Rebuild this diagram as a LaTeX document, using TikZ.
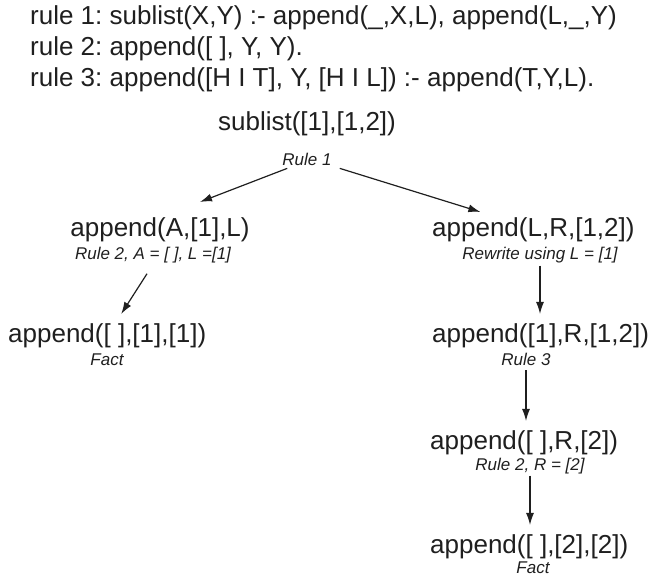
\documentclass[tikz,border=0pt]{standalone}
\usepackage{fontspec}
\setmainfont{Liberation Sans}
\usetikzlibrary{arrows.meta}
\definecolor{ink}{gray}{0.12}
\frenchspacing

\tikzset{
    term/.style={anchor=base, inner sep=0pt, font=\fontsize{26}{31}\selectfont},
    why/.style={anchor=base, inner sep=0pt, font=\fontsize{17}{20}\selectfont\itshape},
    arr/.style={->, line width=1.2pt},
}

\begin{document}
\begin{tikzpicture}[x=1pt, y=-1pt, >={Latex[length=12pt,width=8pt]}, color=ink]
            \useasboundingbox (0,0) rectangle (648,578);
            % the three rules
            \foreach \y/\t [count=\i] in {25/{rule 1: sublist(X,Y) :- append(\_,X,L), append(L,\_,Y)},
                                          56/{rule 2: append([ ], Y, Y).},
                                          87/{rule 3: append([H I T], Y, [H I L]) :- append(T,Y,L).}}
            {
                \node[term, anchor=base west] (rule\i) at (30, \y) {\t};
            }
            % the goal and its two subgoals
            \node[term] (goal) at (307, 130) {sublist([1],[1,2])};
            \node[why ] (why1) at (307, 165) {Rule 1};
            \node[term] (left) at (160, 236) {append(A,[1],L)};
            \node[term, anchor=base west] (rgt1) at (432, 236) {append(L,R,[1,2])};
            \node[why ] (why2) at (153, 259) {Rule 2, A = [ ], L =[1]};
            \node[why ] (why3) at (540, 259) {Rewrite using L = [1]};
            % left branch
            \node[term, anchor=base west] (fact1) at (8, 342) {append([ ],[1],[1])};
            \node[why ] (end1) at (107, 365) {Fact};
            % right branch
            \node[term, anchor=base west] (rgt2) at (432, 342) {append([1],R,[1,2])};
            \node[why ] (why4) at (526, 365) {Rule 3};
            \node[term, anchor=base west] (rgt3) at (430, 449) {append([ ],R,[2])};
            \node[why ] (why5) at (530, 470) {Rule 2, R = [2]};
            \node[term, anchor=base west] (fact2) at (430, 553) {append([ ],[2],[2])};
            \node[why ] (end2) at (533, 573) {Fact};

            \draw[arr] ([shift={(5,3)}]why1.south west) -- ([shift={(40,-15)}]left.north);
            \draw[arr] ([shift={(8,3)}]why1.south east) -- ([shift={(-53,-5)}]rgt1.north);
            \draw[arr] ([shift={(-6,11)}]why2.south) -- ([shift={(14,-9)}]fact1.north);
            \draw[arr, shorten <=3pt, shorten >=9pt] (why3.south) -- (why3.south |- rgt2.north);
            \draw[arr, shorten <=5pt, shorten >=9pt] (why4.south) -- (why4.south |- rgt3.north);
            \draw[arr, shorten <=2pt, shorten >=9pt] (why5.south) -- (why5.south |- fact2.north);
        \end{tikzpicture}
\end{document}
